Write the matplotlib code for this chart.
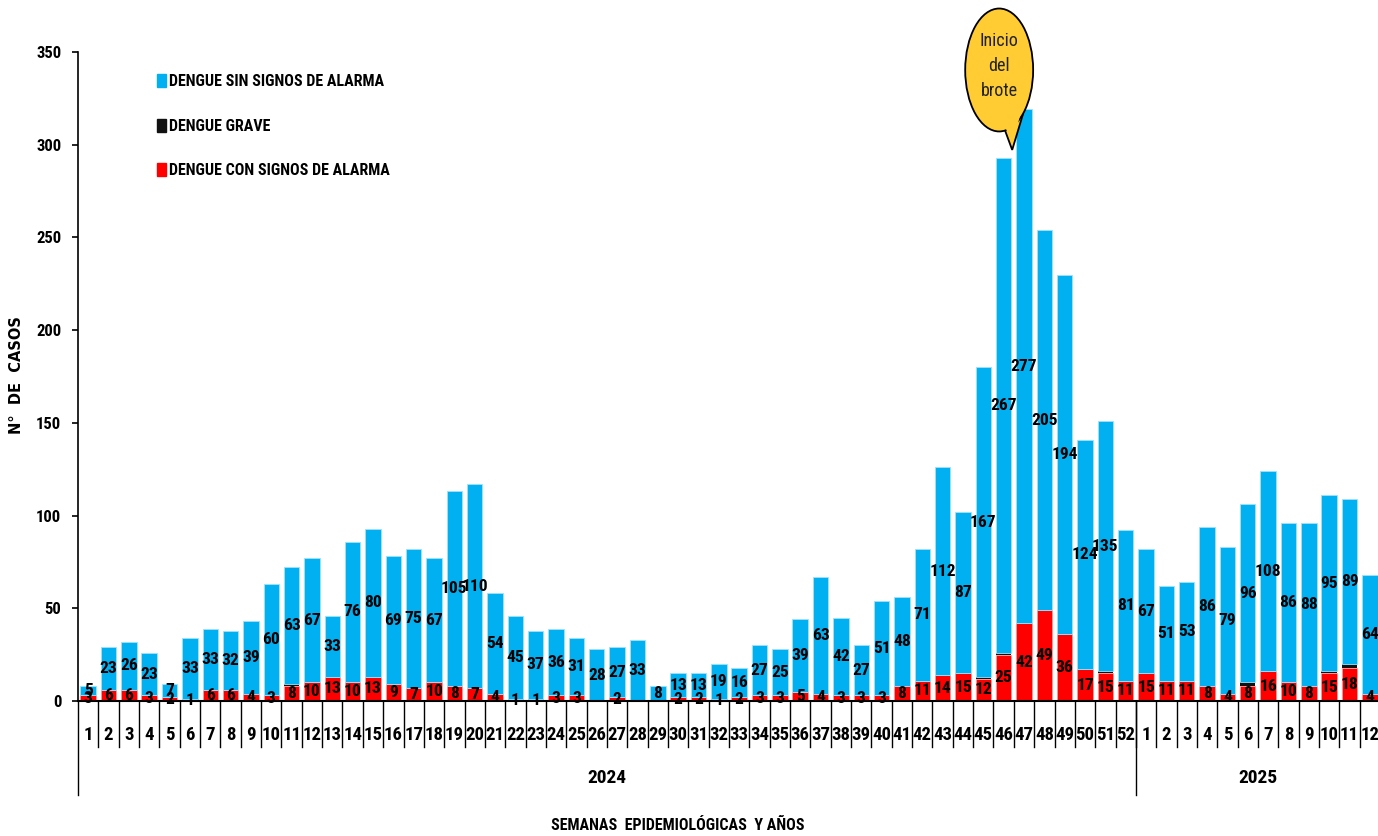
import matplotlib
matplotlib.use("Agg")
import matplotlib.pyplot as plt
from matplotlib import font_manager as fm
from matplotlib.patches import Patch, Ellipse, Polygon
import numpy as np

# buscar una fuente estrecha (tipo Calibri) entre las instaladas
fuentes = fm.fontManager.ttflist
nombres = {f.name for f in fuentes}
familia, estiramiento = None, "normal"
for n in ["Liberation Sans Narrow", "Arial Narrow", "Roboto Condensed", "Open Sans Condensed",
          "Noto Sans Condensed", "DejaVu Sans Condensed"]:
    if n in nombres:
        familia = n
        break
if familia is None:
    for n in ["Noto Sans", "Open Sans", "Roboto", "DejaVu Sans"]:
        if any(f.name == n and "condensed" in str(f.stretch) for f in fuentes):
            familia, estiramiento = n, "condensed"
            break
if familia is None:
    familia = "Liberation Sans"
estrecha = familia != "Liberation Sans"
k = 1.0 if estrecha else 0.85

plt.rcParams["font.family"] = [familia, "DejaVu Sans"]
plt.rcParams["font.stretch"] = estiramiento

# semanas epidemiológicas: 2024 (1-52) y 2025 (1-12)
semanas_2024 = list(range(1, 53))
semanas_2025 = list(range(1, 13))
semanas = [str(s) for s in semanas_2024 + semanas_2025]

con_signos = [3, 6, 6, 3, 2, 1, 6, 6, 4, 3, 8, 10, 13, 10, 13, 9, 7, 10, 8, 7,
              4, 1, 1, 3, 3, 0, 2, 0, 0, 2, 2, 1, 2, 3, 3, 5, 4, 3, 3, 3,
              8, 11, 14, 15, 12, 25, 42, 49, 36, 17, 15, 11,
              15, 11, 11, 8, 4, 8, 16, 10, 8, 15, 18, 4]
grave = [0, 0, 0, 0, 0, 0, 0, 0, 0, 0, 1, 0, 0, 0, 0, 0, 0, 0, 0, 0,
         0, 0, 0, 0, 0, 0, 0, 0, 0, 0, 0, 0, 0, 0, 0, 0, 0, 0, 0, 0,
         0, 0, 0, 0, 1, 1, 0, 0, 0, 0, 1, 0,
         0, 0, 0, 0, 0, 2, 0, 0, 0, 1, 2, 0]
sin_signos = [5, 23, 26, 23, 7, 33, 33, 32, 39, 60, 63, 67, 33, 76, 80, 69, 75, 67, 105, 110,
              54, 45, 37, 36, 31, 28, 27, 33, 8, 13, 13, 19, 16, 27, 25, 39, 63, 42, 27, 51,
              48, 71, 112, 87, 167, 267, 277, 205, 194, 124, 135, 81,
              67, 51, 53, 86, 79, 96, 108, 86, 88, 95, 89, 64]

azul = "#00B0F0"
rojo = "#FF0000"
negro = "#111111"

x = np.arange(1, len(semanas) + 1)
con = np.array(con_signos)
gra = np.array(grave)
sin = np.array(sin_signos)

fig = plt.figure(figsize=(13.78, 8.36), dpi=100)
ax = fig.add_axes([78 / 1378, 135 / 836, 1302 / 1378, 649 / 836])

w = 0.76
b_con = ax.bar(x, con, w, color=rojo, edgecolor="#ff9999", linewidth=0.5)
b_gra = ax.bar(x, gra, w, bottom=con, color=negro, linewidth=0)
b_sin = ax.bar(x, sin, w, bottom=con + gra, color=azul, edgecolor="#9fe3fb", linewidth=0.6)

ax.bar_label(b_con, labels=[str(v) if v else "" for v in con], label_type="center",
             fontsize=12.5 * k, fontweight="bold", color="black")
ax.bar_label(b_sin, labels=[str(v) if v else "" for v in sin], label_type="center",
             fontsize=12.5 * k, fontweight="bold", color="black")

ax.set_xlim(0.5, len(semanas) + 0.5)
ax.set_ylim(0, 350)
ax.set_yticks(range(0, 351, 50))
ax.tick_params(axis="y", labelsize=12 * k, length=4, width=1.2, pad=8)
for t in ax.get_yticklabels():
    t.set_fontweight("bold")
ax.set_xticks(x)
ax.set_xticklabels(semanas, fontsize=13.5 * k, fontweight="bold")
ax.tick_params(axis="x", length=0, pad=18)
for s in ["top", "right"]:
    ax.spines[s].set_visible(False)
ax.spines["left"].set_linewidth(1.2)
ax.spines["bottom"].set_linewidth(1.5)

# separadores del eje de categorías
tr = ax.get_xaxis_transform()
for i in range(1, len(semanas)):
    ax.plot([i + 0.5, i + 0.5], [0, -0.071], transform=tr, color="black", lw=1, clip_on=False)
for i in [0, len(semanas_2024)]:
    ax.plot([i + 0.5, i + 0.5], [0, -0.145], transform=tr, color="black", lw=1, clip_on=False)
ax.text((1 + len(semanas_2024)) / 2, -0.119, "2024", transform=tr, ha="center", va="center",
        fontsize=14 * k, fontweight="bold")
ax.text(len(semanas_2024) + (1 + len(semanas_2025)) / 2, -0.119, "2025", transform=tr,
        ha="center", va="center", fontsize=14 * k, fontweight="bold")

fig.text(17 / 1378, 1 - 375 / 836, "N°  DE  CASOS", rotation=90, ha="center", va="center",
         fontsize=10.5, fontweight="bold", family=["DejaVu Sans"], stretch="normal")
fig.text(678 / 1378, 1 - 826 / 836, "SEMANAS  EPIDEMIOLÓGICAS  Y AÑOS", ha="center",
         va="center", fontsize=11.5 * k, fontweight="bold")

handles = [Patch(color=azul), Patch(color=negro), Patch(color=rojo)]
labels = ["DENGUE SIN SIGNOS DE ALARMA", "DENGUE GRAVE", "DENGUE CON SIGNOS DE ALARMA"]
ax.legend(handles, labels, loc="upper left", bbox_to_anchor=(0.0545, 0.978), frameon=False,
          handlelength=0.55, handleheight=0.85, handletextpad=0.2, labelspacing=1.85,
          borderpad=0, prop={"size": 11.5 * k, "weight": "bold", "family": [familia],
                             "stretch": estiramiento})

# globo "Inicio del brote"
cx, cy, ew, eh = 45.78, 340.3, 3.34, 66.3
tip = np.array([46.42, 297.2])
amarillo = "#FFCC33"
a, b = ew / 2, eh / 2
t1, t2 = np.deg2rad(-45), np.deg2rad(-80)
p1 = np.array([cx + a * np.cos(t1), cy + b * np.sin(t1)])
p2 = np.array([cx + a * np.cos(t2), cy + b * np.sin(t2)])
ax.add_patch(Polygon([p1, tip, p2], closed=True, facecolor=amarillo, edgecolor="black",
                     lw=1.3, clip_on=False, zorder=5))
ax.add_patch(Ellipse((cx, cy), ew, eh, facecolor=amarillo, edgecolor="black", lw=1.3,
                     clip_on=False, zorder=6))
q1 = np.array([cx + a * 0.93 * np.cos(t1), cy + b * 0.93 * np.sin(t1)])
q2 = np.array([cx + a * 0.93 * np.cos(t2), cy + b * 0.93 * np.sin(t2)])
qt = tip + 0.25 * ((p1 + p2) / 2 - tip)
ax.add_patch(Polygon([q1, qt, q2], closed=True, facecolor=amarillo, edgecolor="none",
                     clip_on=False, zorder=7))
ax.text(cx, cy + 2, "Inicio\ndel\nbrote", ha="center", va="center", fontsize=13 * k,
        linespacing=1.5, zorder=8, color="#222222", fontweight="normal")

fig.savefig("out.png", dpi=100)
